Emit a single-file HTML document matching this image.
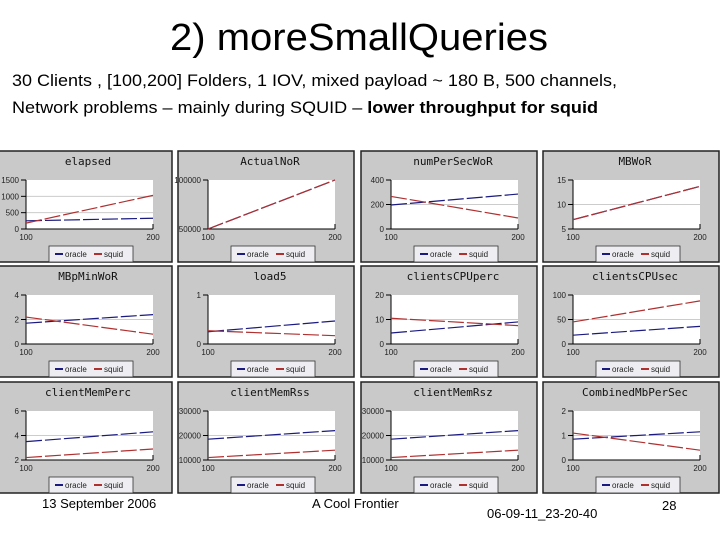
<!DOCTYPE html>
<html><head><meta charset="utf-8"><style>
body{margin:0;background:#fff;width:720px;height:540px;overflow:hidden;font-family:"Liberation Sans",sans-serif}
svg{display:block}
</style></head><body>
<svg id="s" width="720" height="540" xmlns="http://www.w3.org/2000/svg">
<text x="359" y="50" font-size="38" text-anchor="middle" textLength="378" lengthAdjust="spacingAndGlyphs">2) moreSmallQueries</text>
<text x="12" y="86" font-size="17" textLength="605" lengthAdjust="spacingAndGlyphs">30 Clients , [100,200] Folders, 1 IOV, mixed payload ~ 180 B, 500 channels,</text>
<text x="12" y="113" font-size="17" textLength="586" lengthAdjust="spacingAndGlyphs">Network problems – mainly during SQUID – <tspan font-weight="bold">lower throughput for squid</tspan></text>
<g id="charts"></g>
<text x="42" y="508" font-size="13">13 September 2006</text>
<text x="312" y="508" font-size="13">A Cool Frontier</text>
<text x="487" y="518" font-size="13">06-09-11_23-20-40</text>
<text x="662" y="510" font-size="13">28</text>
</svg>
<script>
const chartTitles=["elapsed","ActualNoR","numPerSecWoR","MBWoR","MBpMinWoR","load5","clientsCPUperc","clientsCPUsec","clientMemPerc","clientMemRss","clientMemRsz","CombinedMbPerSec"];
const yTicks=[[0,500,1000,1500],[50000,100000],[0,200,400],[5,10,15],[0,2,4],[0,1],[0,10,20],[0,50,100],[2,4,6],[10000,20000,30000],[10000,20000,30000],[0,1,2]];
const xCats=[100,200];
const oracleVals=[[250,330],[50000,100000],[196,285],[6.9,13.7],[1.7,2.4],[0.25,0.47],[4.5,9],[18,36],[3.5,4.3],[18500,22000],[18500,22000],[0.85,1.15]];
const squidVals=[[180,1030],[50000,100000],[266,90],[6.9,13.7],[2.2,0.8],[0.27,0.17],[10.5,7.5],[45,88],[2.2,2.9],[11000,14000],[11000,14000],[1.1,0.4]];
const NS="http://www.w3.org/2000/svg";
const g=document.getElementById('charts');
function mk(t,a,p){const e=document.createElementNS(NS,t);for(const k in a)e.setAttribute(k,a[k]);(p||g).appendChild(e);return e;}
const colX=[-4,178,361,543],rowY=[151,266,382];
chartTitles.forEach((title,i)=>{
  const px=colX[i%4],py=rowY[Math.floor(i/4)];
  const grp=mk('g',{});
  
  
  const bg=mk('rect',{x:px,y:py,width:176,height:111,fill:'#c9c9c9',stroke:'#222','stroke-width':1.5},grp);
  
  
  const tt=mk('text',{x:px+92,y:py+14,'font-size':11,'text-anchor':'middle','font-family':'"DejaVu Sans Mono",monospace',fill:'#111'},grp);
  tt.textContent=title;
  
  
  const L=px+30,T=py+29,W=127,H=49;
  const ticks=yTicks[i],ymin=ticks[0],ymax=ticks[ticks.length-1];
  const xs=v=>L+(v-xCats[0])/(xCats[1]-xCats[0])*W;
  const ys=v=>T+H-(v-ymin)/(ymax-ymin)*H;
  const pa=mk('rect',{x:L,y:T,width:W,height:H,fill:'#fff'},grp);
  
  
  ticks.forEach(t=>{
    const y=ys(t);
    if(t!==ymin&&t!==ymax){const gl=mk('line',{x1:L,x2:L+W,y1:y,y2:y,stroke:'#ccc','stroke-width':1},grp);}
    mk('line',{x1:L-5,x2:L,y1:y,y2:y,stroke:'#000'},grp);
    const tl=mk('text',{x:L-7,y:y+3,'font-size':8,'text-anchor':'end',fill:'#222'},grp);
    tl.textContent=t;
    
    
  });
  mk('line',{x1:L,x2:L,y1:T,y2:T+H,stroke:'#000'},grp);
  mk('line',{x1:L,x2:L+W,y1:T+H,y2:T+H,stroke:'#000'},grp);
  xCats.forEach(c=>{
    const x=xs(c);
    mk('line',{x1:x,x2:x,y1:T+H-5,y2:T+H,stroke:'#000'},grp);
    const xl=mk('text',{x:x,y:T+H+11,'font-size':8,'text-anchor':'middle',fill:'#222'},grp);
    xl.textContent=c;
    
    
  });
  [[oracleVals[i],'#1a1a80','oracle'],[squidVals[i],'#b03030','squid']].forEach(([vals,col,nm])=>{
    const ln=mk('polyline',{points:vals.map((v,k)=>xs(xCats[k])+','+ys(v)).join(' '),fill:'none',stroke:col,'stroke-width':1.2,'stroke-dasharray':'16,3'},grp);
    
    
  });
  const lx=px+53,ly=py+95;
  const lg=mk('rect',{x:lx,y:ly,width:84,height:16,fill:'#eeeef2',stroke:'#333','stroke-width':0.8},grp);
  
  
  [['oracle','#1a1a80',lx+6],['squid','#b03030',lx+45]].forEach(([nm,col,x])=>{
    mk('line',{x1:x,x2:x+8,y1:ly+8,y2:ly+8,stroke:col,'stroke-width':2},grp);
    const lt=mk('text',{x:x+10,y:ly+11,'font-size':8,fill:'#222'},grp);
    lt.textContent=nm;
    
    
  });
});
</script>
</body></html>
